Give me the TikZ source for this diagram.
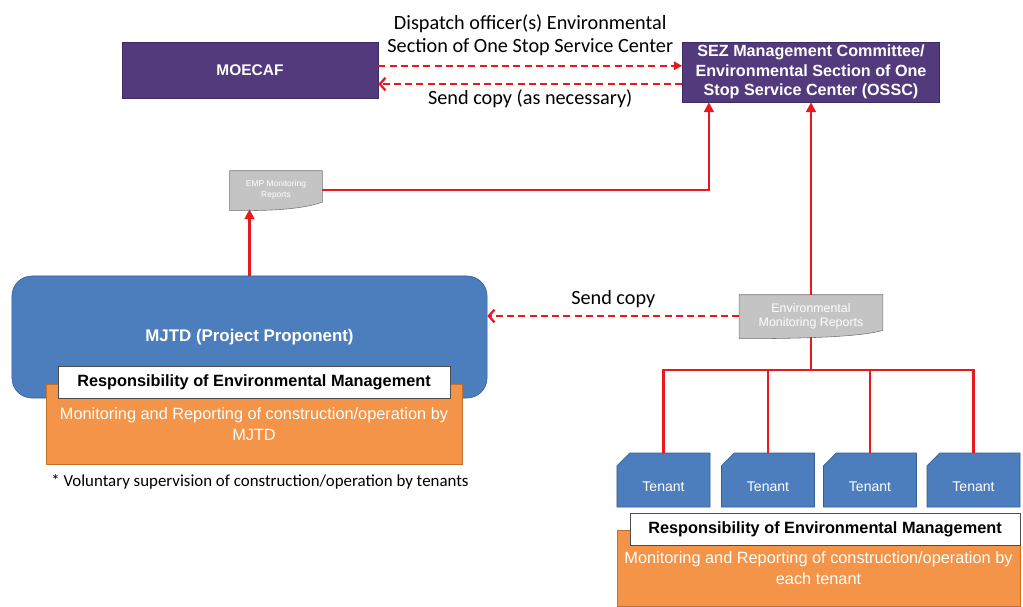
\documentclass[tikz,border=0pt]{standalone}
\usepackage{fontspec}
\setmainfont{Liberation Sans}
\newfontfamily\calibrifont{Carlito}
\usetikzlibrary{
	arrows.meta,
	positioning,
	shapes.misc,
	backgrounds,
	calc
}

\definecolor{moepurple}{RGB}{82,58,125}
\definecolor{moeedge}{RGB}{58,44,96}
\definecolor{mjtdblue}{RGB}{76,126,190}
\definecolor{mjtdedge}{RGB}{52,92,148}
\definecolor{dutyorange}{RGB}{243,148,72}
\definecolor{dutyedge}{RGB}{196,112,44}
\definecolor{reportgray}{RGB}{196,196,196}
\definecolor{reportedge}{RGB}{118,118,118}
\definecolor{linkred}{RGB}{232,24,30}

\tikzset{
	orgbox/.style={draw=moeedge, fill=moepurple, text=white, align=center, inner sep=2pt},
	mjtdbox/.style={draw=mjtdedge, fill=mjtdblue, text=white, rounded corners=0.5cm,
		font=\bfseries\fontsize{12}{14}\selectfont},
	dutybox/.style={draw=dutyedge, fill=dutyorange, text=white, align=center,
		font=\fontsize{11.6}{15}\selectfont},
	respbox/.style={draw=black!70, fill=white, text=black, thin,
		font=\bfseries\fontsize{11.6}{13}\selectfont},
	reportdoc/.style={text=white, align=center, inner sep=1pt},
	tenantbox/.style={chamfered rectangle, chamfered rectangle corners=north west,
		chamfered rectangle xsep=0.45cm, chamfered rectangle ysep=0.2cm,
		draw=mjtdedge, fill=mjtdblue, text=white, minimum width=2.325cm, minimum height=1.35cm,
		font=\fontsize{10}{12}\selectfont},
	redlink/.style={draw=linkred, line width=1.6pt},
	dashlink/.style={draw=linkred, line width=1.6pt, dash pattern=on 5pt off 3pt},
	linklabel/.style={font=\calibrifont\fontsize{14.4}{17}\selectfont, align=center, inner sep=1pt}
}

\begin{document}
\begin{tikzpicture}[x=0.025cm, y=-0.025cm]

\useasboundingbox (0,0) rectangle (1023,606);

% Ministry and SEZ committee
\node[orgbox, minimum width=6.4cm, minimum height=1.4cm, font=\bfseries\fontsize{11}{13}\selectfont] (moecaf) at (250,70) {MOECAF};
\node[orgbox, minimum width=6.425cm, minimum height=1.5cm, font=\bfseries\fontsize{11.5}{14}\selectfont] (sez) at (811,72) {SEZ Management Committee/\\Environmental Section of One\\Stop Service Center (OSSC)};

\draw[dashlink, -{Triangle[length=6pt,width=6pt]}] ([yshift=3pt]moecaf.east) -- ([yshift=3pt]moecaf.east -| sez.west)
	node[linklabel, midway, above=5pt] (dispatchlbl) {Dispatch officer(s) Environmental\\Section of One Stop Service Center};
\draw[dashlink, -{Straight Barb[length=4pt,width=9pt]}] ([yshift=-10pt]moecaf.east -| sez.west) -- ([yshift=-10pt]moecaf.east)
	node[linklabel, midway, below=2pt] (copylbl) {Send copy (as necessary)};

% Project proponent
\node[mjtdbox, minimum width=11.875cm, minimum height=3.05cm] (mjtd) at (249.5,337) {MJTD (Project Proponent)};
\node[dutybox, minimum width=10.4cm, minimum height=2cm] (mjtdduty) at (254,424) {Monitoring and Reporting of construction/operation by\\MJTD};
\node[respbox, minimum width=9.8cm, minimum height=0.8cm] (mjtdresp) at (254,382) {Responsibility of Environmental Management};
\node[font=\calibrifont\fontsize{12}{14}\selectfont] (note) at (260,482) {* Voluntary supervision of construction/operation by tenants};

% Monitoring reports
\node[reportdoc, minimum width=2.3cm, minimum height=0.95cm, font=\fontsize{6}{7.5}\selectfont] (emp) at (276,190) {EMP Monitoring\\Reports};
\node[reportdoc, minimum width=3.575cm, minimum height=1.05cm, font=\fontsize{8.8}{10}\selectfont] (envrep) at (811,316) {Environmental\\Monitoring Reports};

\begin{scope}[on background layer]
\foreach \d in {emp,envrep} {
	\filldraw[draw=reportedge, fill=reportgray] (\d.north west) -- (\d.north east) -- ([yshift=5pt]\d.south east)
		.. controls +(-0.6cm,-0.2cm) and +(0.9cm,0cm) .. ([yshift=-1pt]\d.south west) -- cycle;
}
\end{scope}

\draw[redlink, -{Triangle[length=7pt,width=7pt]}] (mjtd.north) -- (mjtd.north |- emp.south);
\draw[redlink, -{Triangle[length=7pt,width=7pt]}] (emp.east) -| ([xshift=19pt]sez.south west);
\draw[redlink, -{Triangle[length=7pt,width=7pt]}] (envrep.north) -- (envrep.north |- sez.south);
\draw[dashlink, -{Straight Barb[length=4pt,width=9pt]}] (envrep.west) -- (envrep.west -| mjtd.east)
	node[linklabel, midway, above=4pt] (sendlbl) {Send copy};

% Tenants
\coordinate (bus) at (811,370);
\draw[redlink] (envrep.south) -- (bus);
\foreach \n/\x in {1/663.5, 2/768, 3/870, 4/973.5} {
	\node[tenantbox] (tenant\n) at (\x,480) {\raisebox{-8.5pt}[0pt][0pt]{Tenant}};
	\draw[redlink] (bus) -| (tenant\n.north);
}

\node[dutybox, minimum width=10.075cm, minimum height=1.9cm] (tenduty) at (818.5,568) {Monitoring and Reporting of construction/operation by\\each tenant};
\node[respbox, minimum width=9.75cm, minimum height=0.8cm] (tenresp) at (825,529) {Responsibility of Environmental Management};

\end{tikzpicture}
\end{document}
